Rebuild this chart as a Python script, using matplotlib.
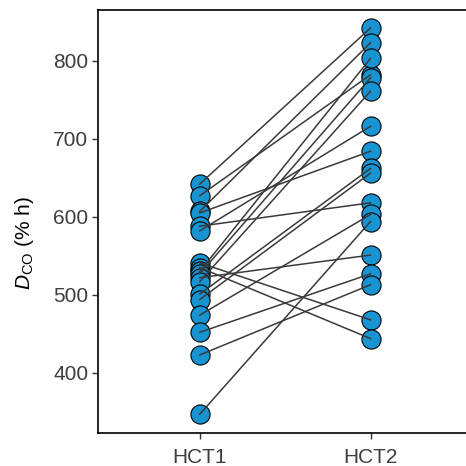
import numpy as np
import matplotlib
matplotlib.use("Agg")
import matplotlib.pyplot as plt

plt.rcParams['font.family'] = ['Liberation Sans', 'DejaVu Sans']
plt.rcParams['mathtext.fontset'] = 'custom'
plt.rcParams['mathtext.rm'] = 'Liberation Sans'
plt.rcParams['mathtext.it'] = 'Liberation Sans:italic'

# paired values, one entry per subject
groups = ['HCT1', 'HCT2']
hct1 = [642, 627, 607, 605, 588, 582, 541, 535, 530, 527, 522, 517, 501, 494, 474, 452, 423, 347]
hct2 = [842, 782, 823, 684, 618, 716, 468, 444, 803, 778, 551, 761, 662, 656, 603, 527, 513, 594]

fig = plt.figure(figsize=(4.66, 4.66), dpi=100)
ax = fig.add_axes([0.2103, 0.0708, 0.79, 0.9077])

x = np.array([1, 2])
for a, b in zip(hct1, hct2):
    ax.plot(x, [a, b], color='#3a3a3a', lw=1.1, zorder=3)

ax.scatter(np.ones(len(hct1)), hct1, s=190, color='#1894d2', edgecolor='black',
           linewidth=0.8, zorder=2)
ax.scatter(np.full(len(hct2), 2), hct2, s=190, color='#1894d2', edgecolor='black',
           linewidth=0.8, zorder=2)

ax.set_xlim(0.404, 2.56)
ax.set_ylim(323, 865)
ax.set_xticks(x)
ax.set_xticklabels(groups)
ax.set_yticks([400, 500, 600, 700, 800])

ax.spines['right'].set_visible(False)
for s in ['left', 'bottom', 'top']:
    ax.spines[s].set_linewidth(1.2)

ax.tick_params(axis='both', length=4, width=1.0, color='#333333', pad=3,
               labelsize=15, labelcolor='#3d3d3d')
ax.tick_params(axis='x', pad=6.5)
ax.set_ylabel(r'$\mathit{D}_{\mathrm{CO}}$ (% h)', fontsize=15, color='black')
ax.yaxis.set_label_coords(-0.168, 0.45)

fig.savefig('out.png', dpi=100)
